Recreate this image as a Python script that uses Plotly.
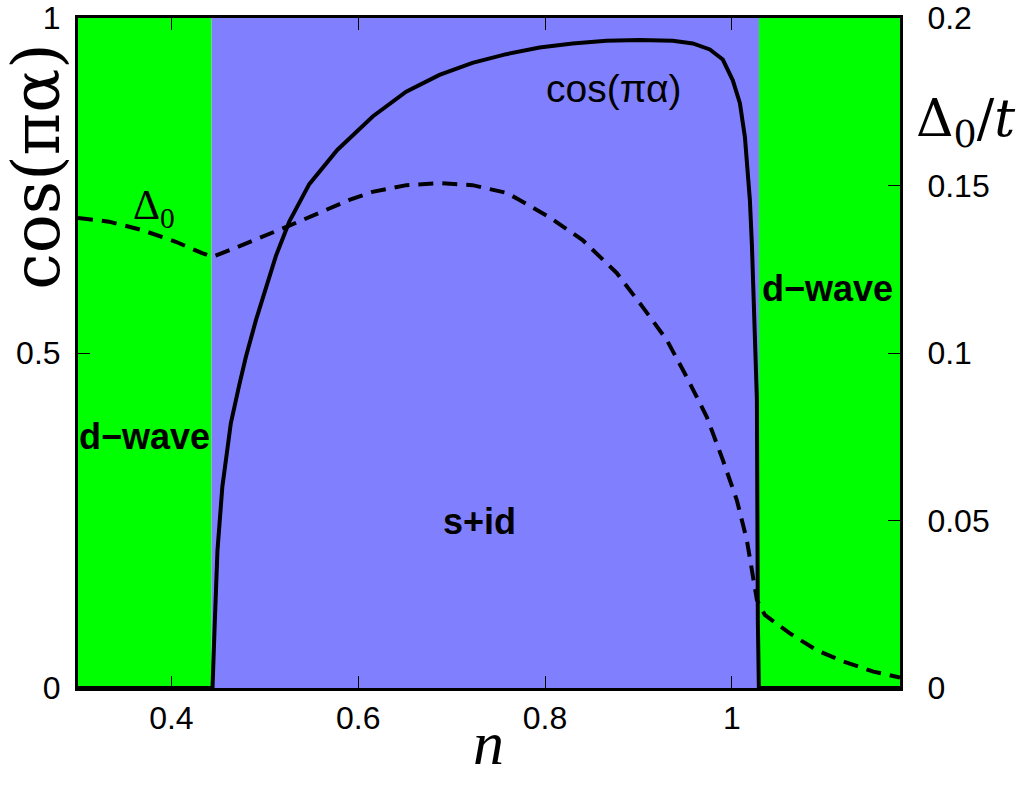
import plotly.graph_objects as go

# ---- data ----
n_cos = [0.30, 0.444, 0.4465, 0.4493, 0.4545, 0.4636, 0.4726, 0.4797, 0.4905, 0.4994, 0.5119,
         0.5262, 0.5476, 0.5776, 0.6155, 0.6513, 0.6870, 0.7223, 0.7585, 0.7942, 0.8295,
         0.8657, 0.9013, 0.9367, 0.9582, 0.9764, 0.9903, 1.0010, 1.0086, 1.0140, 1.0171,
         1.0193, 1.0215, 1.0245, 1.0268, 1.0278, 1.0289, 1.18]
cos_pa = [0.0, 0.0, 0.100, 0.205, 0.300, 0.395, 0.452, 0.494, 0.549, 0.591, 0.645,
          0.696, 0.752, 0.803, 0.853, 0.890, 0.915, 0.933, 0.946, 0.956, 0.962,
          0.966, 0.967, 0.966, 0.962, 0.953, 0.938, 0.907, 0.873, 0.822, 0.773,
          0.728, 0.660, 0.550, 0.430, 0.101, 0.0, 0.0]

n_gap = [0.300, 0.3332, 0.3686, 0.4047, 0.4329, 0.4440, 0.4651, 0.4940, 0.5262, 0.5905,
         0.6152, 0.6516, 0.6870, 0.7223, 0.7588, 0.7727, 0.7942, 0.8049, 0.8402, 0.8767,
         0.9046, 0.9303, 0.9517, 0.9732, 0.9903, 1.0053, 1.0160, 1.0268, 1.0353, 1.0621,
         1.0907, 1.1193, 1.1515, 1.1800]
gap0 = [0.1403, 0.1392, 0.1367, 0.1332, 0.1298, 0.1287, 0.1310, 0.1343, 0.1380, 0.1457,
        0.1481, 0.1501, 0.1507, 0.1501, 0.1478, 0.1457, 0.1424, 0.1405, 0.1337, 0.1239,
        0.1137, 0.1039, 0.0928, 0.0809, 0.0681, 0.0561, 0.0442, 0.0263, 0.0218, 0.0163,
        0.0113, 0.0079, 0.0049, 0.0031]

phase_edges = [0.30, 0.443, 1.029, 1.18]
phase_colors = ["#00FF00", "#8080FF", "#00FF00"]

x_ticks = [0.4, 0.6, 0.8, 1.0]
x_ticktext = ["0.4", "0.6", "0.8", "1"]
y_ticks = [0, 0.5, 1]
y_ticktext = ["0", "0.5", "1"]
y2_ticks = [0, 0.05, 0.1, 0.15, 0.2]
y2_ticktext = ["0", "0.05", "0.1", "0.15", "0.2"]

SANS = "Liberation Sans, Arial, sans-serif"
SERIF = "Liberation Serif, Times New Roman, serif"
WSERIF = "DejaVu Serif, serif"

fig = go.Figure()

for i, c in enumerate(phase_colors):
    fig.add_shape(type="rect", xref="x", yref="y domain",
                  x0=phase_edges[i], x1=phase_edges[i + 1], y0=0, y1=1,
                  fillcolor=c, line=dict(width=0), layer="below")

fig.add_trace(go.Scatter(x=n_cos, y=cos_pa, mode="lines", line=dict(color="black", width=4),
                         showlegend=False, yaxis="y"))
fig.add_trace(go.Scatter(x=n_gap, y=gap0, mode="lines",
                         line=dict(color="black", width=4, dash="15px,9px"),
                         showlegend=False, yaxis="y2"))


def a(x, y, text, font, ref="data", angle=0):
    d = dict(x=x, y=y, text=text, showarrow=False, xanchor="center", yanchor="middle",
             font=font, textangle=angle)
    if ref == "data":
        d.update(xref="x", yref="y")
    else:
        d.update(xref="paper", yref="paper")
    return d


bold = dict(family=SANS, size=36, color="black")
ann = [
    a(0.3708, 0.375, "<b>d−wave</b>", bold),
    a(1.1029, 0.597, "<b>d−wave</b>", bold),
    a(0.7298, 0.248, "<b>s+id</b>", bold),
    a(0.8735, 0.8955, "cos(πα)", dict(family=SANS, size=39, color="black")),
    a(0.3815, 0.716, "Δ<sub>0</sub>", dict(family=SERIF, size=42, color="black")),
    # axis titles
    a(-0.0515, 0.7776, "cos(πα)", dict(family=WSERIF, size=65, color="black"), ref="paper", angle=-90),
    a(0.4988, -0.082, "<i>n</i>", dict(family=SERIF, size=62, color="black"), ref="paper"),
    a(1.080, 0.845, "Δ<sub>0</sub>/<i>t</i>", dict(family=WSERIF, size=52, color="black"), ref="paper"),
]

axis_common = dict(showgrid=False, zeroline=False, showline=True, linecolor="black", linewidth=3,
                   ticks="inside", ticklen=12, tickwidth=1, tickcolor="black", automargin=False,
                   ticklabeloverflow="allow",
                   tickfont=dict(family=SANS, size=32, color="black"))

fig.update_layout(
    width=1026, height=794, autosize=False,
    margin=dict(l=78, r=126, t=18, b=106),
    paper_bgcolor="white", plot_bgcolor="white",
    xaxis=dict(range=[0.3, 1.18], tickvals=x_ticks, ticktext=x_ticktext, mirror="ticks",
               ticklabelstandoff=0, **axis_common),
    yaxis=dict(range=[0, 1], tickvals=y_ticks, ticktext=y_ticktext, ticklabelstandoff=8,
               **axis_common),
    yaxis2=dict(range=[0, 0.2], tickvals=y2_ticks, ticktext=y2_ticktext, overlaying="y",
                side="right", ticklabelstandoff=18, **axis_common),
    annotations=ann,
)

fig.write_html("out.html", config={"displayModeBar": False},
               post_script="document.body.style.margin='0';")
